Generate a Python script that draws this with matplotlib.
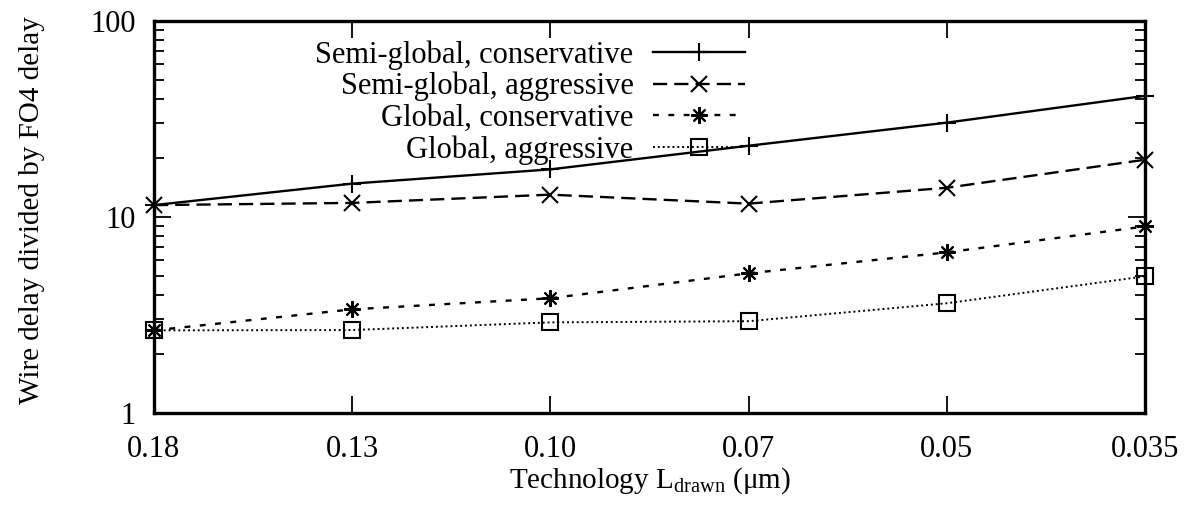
import matplotlib
matplotlib.use("Agg")
import matplotlib.pyplot as plt
import numpy as np

technology = ["0.18", "0.13", "0.10", "0.07", "0.05", "0.035"]
semi_global_conservative = [11.5, 14.8, 17.5, 23.1, 30.3, 41.5]
semi_global_aggressive = [11.5, 11.8, 13.0, 11.7, 14.1, 19.6]
global_conservative = [2.64, 3.38, 3.85, 5.16, 6.6, 8.95]
global_aggressive = [2.64, 2.65, 2.9, 2.94, 3.63, 4.98]
series_labels = ["Semi-global, conservative", "Semi-global, aggressive",
                 "Global, conservative", "Global, aggressive"]

plt.rcParams['font.family'] = ['Liberation Serif', 'DejaVu Serif']
plt.rcParams['mathtext.fontset'] = 'custom'
plt.rcParams['mathtext.rm'] = 'Liberation Serif'
plt.rcParams['mathtext.it'] = 'Liberation Serif:italic'

fig = plt.figure(figsize=(11.85, 5.08), dpi=100)
ax = fig.add_axes([154/1185, 1-413/508, (1145-154)/1185, (413-21)/508])

x = np.arange(len(technology))
fs = 22
common = dict(color='black', clip_on=False, mew=1.5)
ax.plot(x, semi_global_conservative, lw=1.7, linestyle='-',
        marker='+', markersize=13, label=series_labels[0], **common)
ax.plot(x, semi_global_aggressive, lw=1.7, linestyle=(0, (6, 3)),
        marker='x', markersize=11, label=series_labels[1], **common)
ax.plot(x, global_conservative, lw=1.7, linestyle=(0, (2.5, 4)),
        marker=(8, 2, 0), markersize=12, label=series_labels[2], **common)
ax.plot(x, global_aggressive, lw=1.4, linestyle=(0, (1, 1.5)),
        marker='s', markersize=11, markerfacecolor='none', label=series_labels[3], **common)

ax.set_yscale('log')
ax.set_ylim(1, 100)
ax.set_xlim(0, len(technology) - 1)
ax.set_xticks(x)
ax.set_xticklabels(technology)
ax.set_yticks([1, 10, 100])
ax.set_yticklabels(["1", "10", "100"])
ax.tick_params(axis='both', which='major', direction='in', length=12, width=1.3,
               labelsize=fs, top=True, right=True)
ax.tick_params(axis='x', which='major', pad=16)
ax.tick_params(axis='y', which='major', pad=13)
ax.tick_params(axis='y', which='minor', direction='in', length=7, width=1.3,
               right=True, left=True)
ax.yaxis.set_minor_formatter(matplotlib.ticker.NullFormatter())
for s in ax.spines.values():
    s.set_linewidth(2.4)

ax.set_xlabel(r"Technology L$_\mathrm{drawn}$ (μm)", fontsize=21)
ax.xaxis.set_label_coords(0.5, -(481-413)/392, transform=ax.transAxes)
ax.xaxis.label.set_va('center')
ax.set_ylabel("Wire delay divided by FO4 delay", fontsize=21)
ax.yaxis.set_label_coords(-(154-32)/991, (413-210)/392, transform=ax.transAxes)
ax.yaxis.label.set_va('center')

leg = ax.legend(loc='upper right', bbox_to_anchor=((745-154)/991, 1 - (40-21)/392),
                frameon=False, markerfirst=False, fontsize=fs, handlelength=3.0,
                handletextpad=0.65, labelspacing=0.08, borderpad=0, borderaxespad=0)

fig.savefig("out.png", dpi=100)
